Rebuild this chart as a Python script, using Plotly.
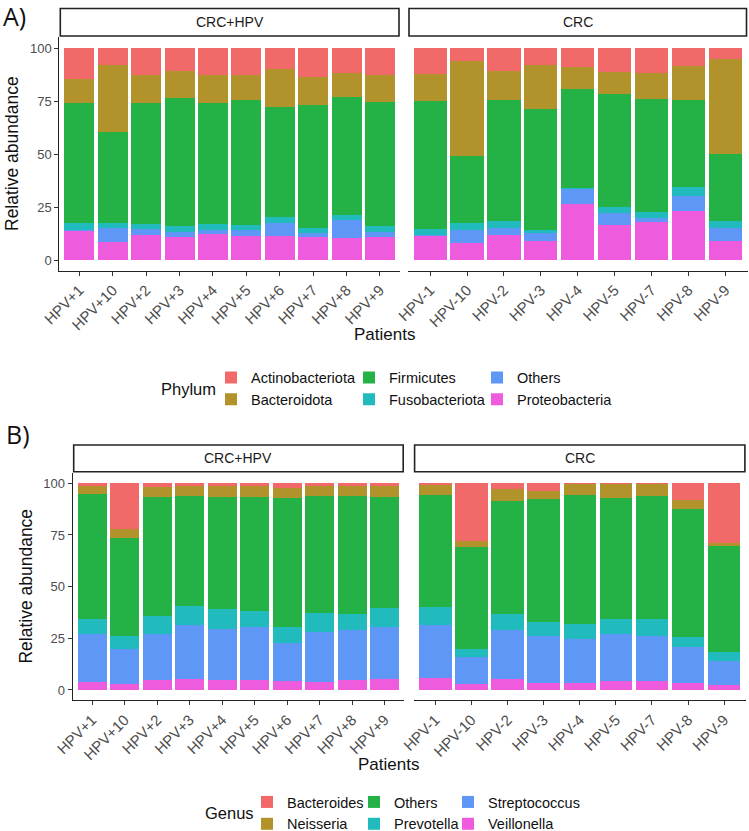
import plotly.graph_objects as go

W, H = 749, 831

# patients in each facet
crc_hpv = ["HPV+1", "HPV+10", "HPV+2", "HPV+3", "HPV+4", "HPV+5", "HPV+6", "HPV+7", "HPV+8", "HPV+9"]
crc_only = ["HPV-1", "HPV-10", "HPV-2", "HPV-3", "HPV-4", "HPV-5", "HPV-7", "HPV-8", "HPV-9"]

# Phylum (%), first 10 = CRC+HPV, last 9 = CRC
proteobacteria = [13.7, 8.5, 11.7, 10.9, 12.4, 11.5, 11.5, 10.9, 10.4, 10.9,
                  11.3, 8.0, 11.7, 8.8, 26.5, 16.4, 18.1, 23.3, 8.8]
others_phy = [0.4, 6.6, 2.8, 2.2, 1.9, 2.7, 6.1, 1.7, 8.7, 2.3,
              0.5, 6.2, 3.4, 4.0, 7.2, 5.6, 1.9, 7.1, 6.5]
fusobacteriota = [3.5, 2.2, 2.5, 3.0, 2.7, 2.5, 2.6, 2.5, 2.2, 2.9,
                  2.8, 3.4, 3.3, 1.5, 0.3, 2.9, 2.5, 4.1, 3.3]
firmicutes = [56.3, 42.9, 56.9, 60.1, 57.2, 58.7, 51.9, 57.8, 55.7, 58.2,
              60.5, 31.4, 56.9, 56.7, 46.8, 53.2, 53.6, 40.9, 31.2]
bacteroidota = [11.5, 31.6, 13.5, 12.8, 13.2, 11.7, 18.0, 13.6, 11.2, 12.8,
                12.6, 45.0, 13.7, 20.8, 10.2, 10.6, 11.9, 16.1, 44.8]
actinobacteriota = [14.6, 8.2, 12.6, 11.0, 12.6, 12.9, 9.9, 13.5, 11.8, 12.9,
                    12.3, 6.0, 11.0, 8.2, 9.0, 11.3, 12.0, 8.5, 5.4]

# Genus (%), same patient order
veillonella = [4.0, 2.9, 4.7, 5.3, 5.0, 4.7, 4.4, 4.0, 5.0, 5.3,
               5.8, 2.9, 5.2, 3.2, 3.5, 4.5, 4.5, 3.2, 2.4]
streptococcus = [23.1, 16.8, 22.4, 26.2, 24.7, 25.8, 18.5, 23.9, 24.0, 25.3,
                 25.7, 12.9, 24.0, 23.1, 21.2, 22.6, 21.8, 17.6, 11.8]
prevotella = [7.4, 6.6, 8.9, 9.1, 9.3, 7.7, 7.4, 9.2, 7.9, 9.2,
              8.5, 4.2, 7.7, 6.6, 7.1, 7.1, 8.2, 4.8, 4.0]
others_gen = [60.2, 47.4, 57.2, 53.3, 54.2, 55.2, 62.4, 56.9, 57.0, 53.6,
              54.4, 49.4, 54.6, 59.4, 62.6, 58.9, 59.5, 62.1, 51.3]
neisseria = [4.0, 4.0, 5.2, 4.6, 5.5, 5.1, 4.9, 4.7, 4.8, 5.1,
             4.6, 2.9, 5.6, 3.8, 5.3, 6.6, 5.7, 4.1, 1.8]
bacteroides = [1.3, 22.3, 1.6, 1.5, 1.3, 1.5, 2.4, 1.3, 1.3, 1.5,
               1.0, 27.7, 2.9, 3.9, 0.3, 0.3, 0.3, 8.2, 28.7]

RED, OLIVE, GREEN, TEAL, BLUE, PINK = "#F2696A", "#B1922B", "#24B146", "#22BBBD", "#5E97F6", "#EE5CDD"

# bottom -> top stacking order, legend rank, legend column
phylum = [
    ("Proteobacteria", proteobacteria, PINK, 6, "legend3"),
    ("Others", others_phy, BLUE, 5, "legend3"),
    ("Fusobacteriota", fusobacteriota, TEAL, 4, "legend2"),
    ("Firmicutes", firmicutes, GREEN, 3, "legend2"),
    ("Bacteroidota", bacteroidota, OLIVE, 2, "legend"),
    ("Actinobacteriota", actinobacteriota, RED, 1, "legend"),
]
genus = [
    ("Veillonella", veillonella, PINK, 6, "legend6"),
    ("Streptococcus", streptococcus, BLUE, 5, "legend6"),
    ("Prevotella", prevotella, TEAL, 4, "legend5"),
    ("Others", others_gen, GREEN, 3, "legend5"),
    ("Neisseria", neisseria, OLIVE, 2, "legend4"),
    ("Bacteroides", bacteroides, RED, 1, "legend4"),
]

FONT = "Liberation Sans, Arial, sans-serif"


# page pixel -> paper fraction
def fx(px):
    return px / W


def fy(py):
    return 1 - py / H


fig = go.Figure()

n1 = len(crc_hpv)
for taxa, axes in [(phylum, ("x", "y", "x2", "y2")), (genus, ("x3", "y3", "x4", "y4"))]:
    for name, vals, col, rank, leg in taxa:
        fig.add_trace(go.Bar(x=crc_hpv, y=vals[:n1], name=name, marker_color=col,
                             marker_line_width=0, xaxis=axes[0], yaxis=axes[1],
                             legend=leg, legendgroup=leg + name, legendrank=rank))
        fig.add_trace(go.Bar(x=crc_only, y=vals[n1:], name=name, marker_color=col,
                             marker_line_width=0, xaxis=axes[2], yaxis=axes[3],
                             legend=leg, legendgroup=leg + name, legendrank=rank,
                             showlegend=False))

panels = {
    "A": dict(y=(37.4, 270.6), left=(59.3, 400.0), right=(408.0, 747.5), strip=(8.5, 36.0)),
    "B": dict(y=(473.0, 700.3), left=(72.7, 404.2), right=(413.6, 745.9), strip=(445.0, 471.7)),
}

xbase = dict(type="category", showline=True, linecolor="#222", linewidth=1.1, ticks="outside",
             ticklen=4, tickcolor="#333", tickangle=-45, showgrid=False, zeroline=False,
             automargin=False, tickfont=dict(family=FONT, size=15, color="#4D4D4D"))
ybase = dict(range=[-5, 105], tickvals=[0, 25, 50, 75, 100], showgrid=False, zeroline=False,
             automargin=False)

layout_axes = {}
shapes, annotations = [], []
for key, p in panels.items():
    ydom = [fy(p["y"][1]), fy(p["y"][0])]
    xa, xb = ("xaxis", "xaxis2") if key == "A" else ("xaxis3", "xaxis4")
    ya, yb = ("yaxis", "yaxis2") if key == "A" else ("yaxis3", "yaxis4")
    layout_axes[xa] = dict(xbase, domain=[fx(p["left"][0]), fx(p["left"][1])],
                           anchor=ya.replace("axis", ""), range=[-0.6, len(crc_hpv) - 0.4])
    layout_axes[xb] = dict(xbase, domain=[fx(p["right"][0]), fx(p["right"][1])],
                           anchor=yb.replace("axis", ""), range=[-0.6, len(crc_only) - 0.4])
    layout_axes[ya] = dict(ybase, domain=ydom, anchor=xa.replace("axis", ""), showline=True,
                           linecolor="#222", linewidth=1.1, ticks="outside", ticklen=4,
                           tickcolor="#333", tickfont=dict(family=FONT, size=13, color="#4D4D4D"))
    layout_axes[yb] = dict(ybase, domain=ydom, anchor=xb.replace("axis", ""), showline=False,
                           showticklabels=False, ticks="")

    # facet strips
    for (x0, x1), label in [(p["left"], "CRC+HPV"), (p["right"], "CRC")]:
        shapes.append(dict(type="rect", xref="paper", yref="paper",
                           x0=fx(x0 + 1), x1=fx(x1 - 1), y0=fy(p["strip"][1]), y1=fy(p["strip"][0]),
                           line=dict(color="#222", width=1.6), fillcolor="white"))
        annotations.append(dict(text=label, xref="paper", yref="paper", showarrow=False,
                                x=fx((x0 + x1) / 2), y=fy(sum(p["strip"]) / 2),
                                xanchor="center", yanchor="middle",
                                font=dict(family=FONT, size=14, color="#1A1A1A")))

# panel letters, axis titles, legend titles
for txt, xc, yc in [("A)", 1, 16), ("B)", 4, 434)]:
    annotations.append(dict(text=txt, x=fx(xc), y=fy(yc), xanchor="left", yanchor="middle",
                            xref="paper", yref="paper", showarrow=False,
                            font=dict(family="Open Sans, Liberation Sans", size=25, color="#111")))

for xc, yc in [(12, 154), (26, 586.6)]:
    annotations.append(dict(text="Relative abundance", textangle=-90, xref="paper", yref="paper",
                            x=fx(xc), y=fy(yc), xanchor="center", yanchor="middle", showarrow=False,
                            font=dict(family=FONT, size=17.5, color="#111")))
for xc, yc in [(384, 334), (388, 764)]:
    annotations.append(dict(text="Patients", xref="paper", yref="paper", x=fx(xc), y=fy(yc),
                            xanchor="center", yanchor="middle", showarrow=False,
                            font=dict(family=FONT, size=17, color="#111")))
for txt, xc, yc in [("Phylum", 159, 388.5), ("Genus", 203, 813)]:
    annotations.append(dict(text=txt, xref="paper", yref="paper", x=fx(xc), y=fy(yc),
                            xanchor="left", yanchor="middle", showarrow=False,
                            font=dict(family=FONT, size=16.5, color="#111")))

# one vertical legend per legend column (swatch left edge x, row centre y)
legbase = dict(xanchor="left", yanchor="middle", itemwidth=30, tracegroupgap=0,
               bgcolor="rgba(0,0,0,0)", font=dict(family=FONT, size=14.5, color="#111"))
legend_cols = {
    "legend": (224, 388.5), "legend2": (362, 388.5), "legend3": (490, 388.5),
    "legend4": (260, 813), "legend5": (367, 813), "legend6": (461, 813),
}
legends = {k: dict(legbase, x=fx(sx - 13), y=fy(sy)) for k, (sx, sy) in legend_cols.items()}

fig.update_layout(
    width=W, height=H,
    margin=dict(l=0, r=0, t=0, b=0, autoexpand=False),
    paper_bgcolor="white", plot_bgcolor="white",
    barmode="stack", bargap=0.1,
    shapes=shapes, annotations=annotations,
    **legends,
    **layout_axes,
)

# drop the default 8px page margin so the figure fills the window
fig.write_html("out.html", config={"displayModeBar": False},
               post_script="document.body.style.margin = '0px';")
